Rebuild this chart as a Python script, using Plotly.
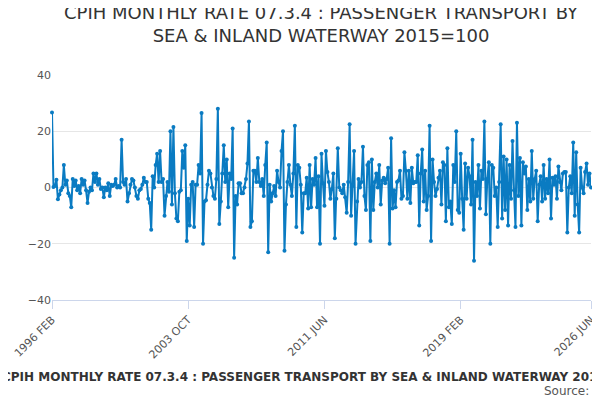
import plotly.graph_objects as go

months = ["JAN", "FEB", "MAR", "APR", "MAY", "JUN", "JUL", "AUG", "SEP", "OCT", "NOV", "DEC"]

# monthly rate, %, Feb 1996 .. Jun 2026
y1996 = [26.7, 0.2, 0.5, 2.8, -4.2, -2.5, -1.0, 0.0, 8.0, 1.0, 2.5]
y1997 = [-2.0, -3.0, -7.0, 3.0, 0.5, 2.5, -1.0, 0.5, -2.0, 3.0, 1.0, 2.5]
y1998 = [-1.0, -5.5, -1.5, 0.0, -1.0, 5.0, 2.0, 5.0, 1.0, 3.0, -0.5, 0.0]
y1999 = [-3.5, 0.0, -1.0, 1.5, -3.0, 1.0, 0.5, 1.0, 3.0, 0.0, 0.5, 0.0]
y2000 = [17.0, 2.0, 1.0, 3.0, -5.0, -2.0, 1.0, 3.0, 2.5, 0.0, -3.0, -4.0]
y2001 = [-1.0, -0.5, 1.0, 3.5, 2.0, 2.0, -4.0, -5.5, -15.0, 4.0, 0.0, 8.0]
y2002 = [12.0, 2.0, 13.0, 2.0, 3.0, -10.0, -3.0, 2.0, -1.5, 20.0, -6.0, 21.5]
y2003 = [-2.0, -11.0, -12.0, -1.5, -1.0, 13.0, 7.0, 15.0, -19.0, -4.0, -13.5, 1.0]
y2004 = [2.0, -14.0, 1.0, 1.0, 8.0, 5.0, 26.5, -20.0, -5.0, -4.5, 1.0, 6.0]
y2005 = [5.0, 0.0, -3.0, -4.0, 3.0, 28.0, -13.0, -5.0, 5.0, 15.0, 2.0, 10.0]
y2006 = [-7.0, 5.0, 3.0, 21.0, -25.0, -3.0, -6.0, 1.5, 1.5, -2.0, -2.0, 0.0]
y2007 = [3.0, 8.5, 23.5, -14.0, -12.0, 6.0, 6.0, 2.0, 10.5, 2.0, 0.5, 3.0]
y2008 = [-3.0, 8.0, 16.0, -23.0, 1.0, -5.0, -2.0, 0.5, -3.0, 6.0, 2.0, 0.0]
y2009 = [13.0, 20.0, -22.5, -6.0, 2.0, 8.0, 1.0, -3.0, 5.0, 22.0, -14.0, 8.0]
y2010 = [7.0, 1.0, -16.0, -2.0, -2.0, 3.5, -7.5, 8.0, -7.0, 3.0, 1.0, 10.5]
y2011 = [-7.0, 4.0, -20.0, 12.0, 1.5, -6.5, 13.0, 5.5, 2.0, -4.0, -0.5, 5.0]
y2012 = [-18.0, -4.0, 14.0, 0.0, -1.0, -2.0, 1.0, -3.5, -9.0, 2.0, 22.5, -10.0]
y2013 = [0.5, 13.0, -20.0, -5.0, 3.0, 0.0, 2.0, 14.5, -3.0, -8.0, 8.0, 9.0]
y2014 = [-19.0, 10.0, -8.0, 2.0, 5.0, 0.0, 8.0, -6.0, 2.5, 3.5, 1.5, 3.0]
y2015 = [7.0, -20.0, 17.5, -7.5, -1.0, -7.0, 2.0, 2.5, 6.0, -4.0, -3.0, 12.5]
y2016 = [6.0, -4.0, 6.0, -5.5, 7.0, 1.5, 2.0, 2.0, 11.5, -13.5, 5.0, 13.5]
y2017 = [-5.0, 6.0, -8.0, -3.0, 22.0, -19.0, 10.0, 2.0, -3.0, -0.5, 3.5, 6.0]
y2018 = [-6.0, 9.0, 8.0, -12.0, 14.0, -7.0, -5.0, -13.0, 8.0, 2.0, 20.0, -8.0]
y2019 = [-9.0, 12.0, -4.0, -15.0, 8.5, -4.0, 7.0, 4.0, -6.0, 17.0, -26.0, 2.0]
y2020 = [-3.0, 8.0, -7.5, 6.0, 3.0, 23.5, -9.5, 3.0, 9.0, -20.0, 8.0, 7.0]
y2021 = [-3.0, 0.0, -14.0, 2.0, 22.5, -11.0, 11.0, -8.0, 10.0, -13.5, 8.0, -4.0]
y2022 = [16.5, -1.0, -14.0, 23.0, -3.0, 10.5, -13.5, 9.0, 5.0, 7.5, -8.0, 3.0]
y2023 = [-5.0, 13.0, -4.0, 3.0, 6.0, -12.0, 1.0, 4.0, -5.0, 8.0, -4.0, 3.0]
y2024 = [-2.0, 10.0, -11.0, 3.5, 1.0, 4.0, -4.0, 7.5, 2.0, -1.0, 5.0, 5.5]
y2025 = [5.5, -16.0, 0.0, 4.0, -2.0, 16.0, -10.0, 12.5, -6.0, -16.0, 7.0, 0.0]
y2026 = [-2.0, 5.5, 8.5, 1.0, 5.0, 0.0]

years = [y1996, y1997, y1998, y1999, y2000, y2001, y2002, y2003, y2004, y2005,
         y2006, y2007, y2008, y2009, y2010, y2011, y2012, y2013, y2014,
         y2015, y2016, y2017, y2018, y2019, y2020, y2021, y2022, y2023,
         y2024, y2025, y2026]

labels = []
values = []
for i, vals in enumerate(years):
    yr = 1996 + i
    start = 1 if yr == 1996 else 0
    for j, v in enumerate(vals):
        labels.append(f"{yr} {months[start + j]}")
        values.append(v)

tick_labels = ["1996 FEB", "2003 OCT", "2011 JUN", "2019 FEB", "2026 JUN"]

title = "CPIH MONTHLY RATE 07.3.4 : PASSENGER TRANSPORT BY SEA & INLAND WATERWAY 2015=100"

fig = go.Figure(go.Scatter(
    x=labels, y=values, mode="lines+markers",
    line=dict(color="#0a7bc2", width=2),
    marker=dict(color="#0a7bc2", size=4),
    cliponaxis=False,
))

fig.update_layout(
    width=600, height=400,
    margin=dict(l=44, r=17, t=67, b=108, autoexpand=False),
    plot_bgcolor="white", paper_bgcolor="white",
    font=dict(family="DejaVu Sans", color="#444"),
    showlegend=False,
    annotations=[
        dict(text="CPIH MONTHLY RATE 07.3.4 : PASSENGER TRANSPORT BY<br>SEA & INLAND WATERWAY 2015=100",
             xref="paper", yref="paper", x=0.5, y=1.12, xanchor="center", yanchor="bottom",
             showarrow=False, font=dict(size=18, color="#333")),
        dict(text="<b>" + title + "</b>", xref="paper", yref="paper", x=0.5, y=-0.38,
             xanchor="center", showarrow=False, font=dict(size=12, color="#333")),
        dict(text="Source:", xref="paper", yref="paper", x=1.0, y=-0.445,
             xanchor="right", showarrow=False, font=dict(size=12, color="#555")),
    ],
)
fig.update_xaxes(
    type="category", range=[0, len(labels) - 1], automargin=False,
    tickmode="array", tickvals=tick_labels, ticktext=tick_labels,
    tickangle=-45, ticks="outside", ticklen=8, tickcolor="#ccd6eb",
    showline=True, linecolor="#ccd6eb", showgrid=False,
    tickfont=dict(size=11, color="#555"),
)
fig.update_yaxes(
    range=[-40, 40], dtick=20, gridcolor="#e6e6e6", zeroline=False, automargin=False,
    tickfont=dict(size=11, color="#555"),
)

fig.write_html("out.html")
